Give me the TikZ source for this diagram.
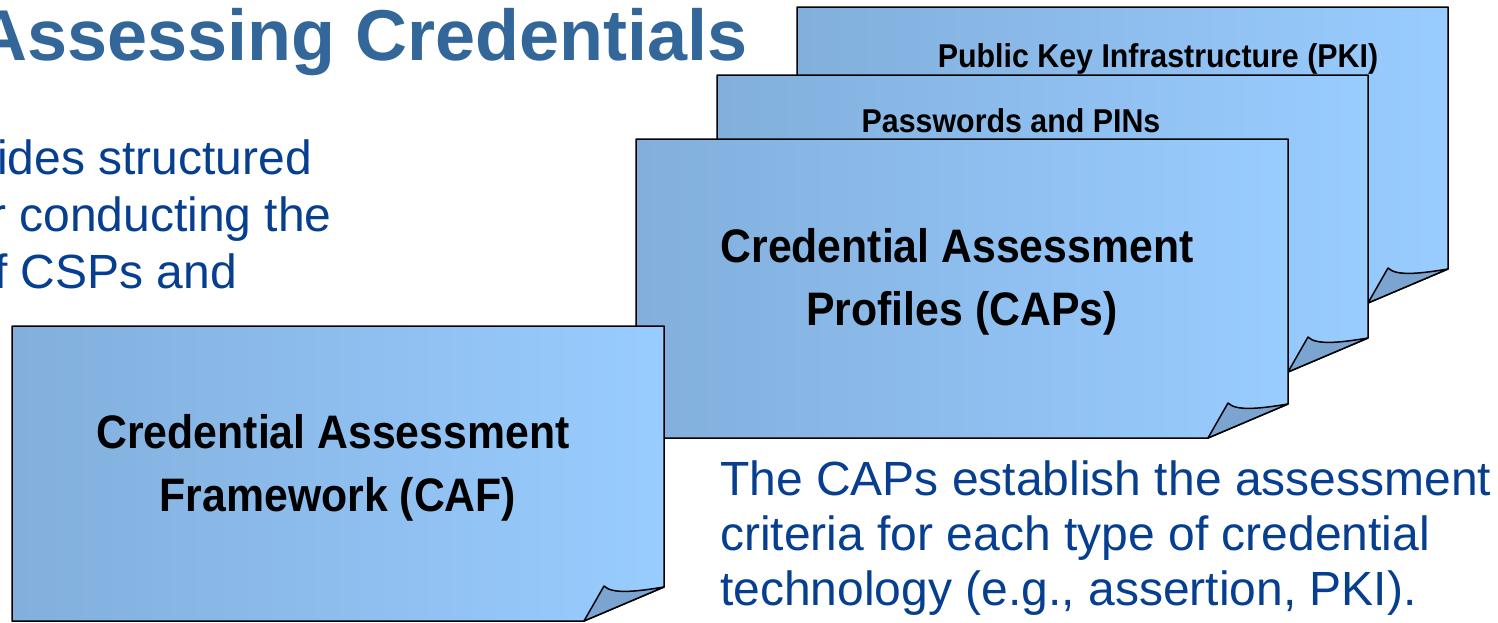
\documentclass[tikz,border=0pt]{standalone}
\usepackage{fontspec}
\setmainfont{Liberation Sans}
\definecolor{sheetL}{HTML}{82AFDC}
\definecolor{sheetR}{HTML}{99CCFF}
\definecolor{foldc}{HTML}{7BA5D0}
\definecolor{titlec}{HTML}{336699}
\definecolor{bodyc}{HTML}{063F8F}
\newcommand\papersheet[4]{%
  \draw[sheetline, left color=sheetL, right color=sheetR]
    (#1,#2) -- (#3,#2) -- (#3,{#4-34}) -- ({#3-80},#4) -- (#1,#4) -- cycle;
  \draw[sheetline, fill=foldc]
    (#3,{#4-34}) .. controls ({#3-30},{#4-29}) and ({#3-52},{#4-27}) .. ({#3-60},{#4-35})
    -- ({#3-80},#4) -- cycle;
}
\begin{document}
\begin{tikzpicture}[x=1pt,y=-1pt,
  sheetline/.style={draw=black, line width=1.5pt, line join=round},
  bigsheet/.style={font=\bfseries\fontsize{47}{63}\selectfont, align=center, inner sep=0pt, xscale=0.91, anchor=base},
  smallsheet/.style={font=\bfseries\fontsize{33}{40}\selectfont, inner sep=0pt, xscale=0.92, anchor=base},
  bodytext/.style={font=\fontsize{48}{57}\selectfont, text=bodyc, inner sep=0pt, anchor=base west},
  titletext/.style={font=\bfseries\fontsize{72}{80}\selectfont, text=titlec, inner sep=0pt, anchor=base west}
]
\useasboundingbox (0,0) rectangle (1498,622);
\fill[white] (0,0) rectangle (1498,622);

\node[titletext] (title) at (-25,60) {Assessing Credentials};

\node[bodytext] (l1) at (-3,174) {ides structured};
\node[bodytext] (l2) at (-10,231) {r conducting the};
\node[bodytext] (l3) at (-6,288) {f CSPs and};

\papersheet{797}{7}{1448}{303}
\node[smallsheet] (pki) at (1158,67) {Public Key Infrastructure (PKI)};

\papersheet{717}{75}{1368}{372}
\node[smallsheet] (pw) at (1011,132) {Passwords and PINs};

\papersheet{636}{139}{1288}{438}
\node[bigsheet] (caps1) at (957,262) {Credential Assessment};
\node[bigsheet] (caps2) at (962,325) {Profiles (CAPs)};

\papersheet{12}{326}{664}{621}
\node[bigsheet] (caf1) at (333,448) {Credential Assessment};
\node[bigsheet] (caf2) at (338,511) {Framework (CAF)};

\node[bodytext] (r1) at (720,495) {The CAPs establish the assessment};
\node[bodytext] (r2) at (720,550) {criteria for each type of credential};
\node[bodytext] (r3) at (720,605) {technology (e.g., assertion, PKI).};
\end{tikzpicture}
\end{document}
